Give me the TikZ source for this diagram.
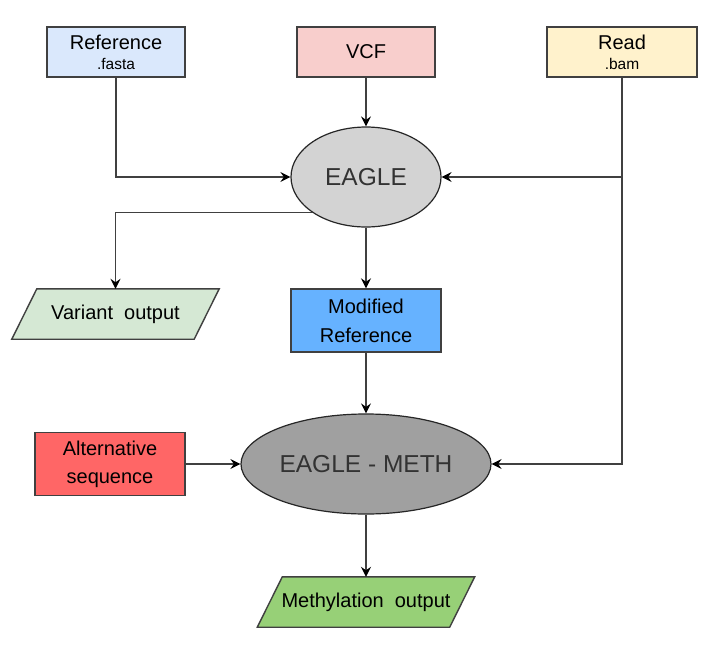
\documentclass[tikz,border=0pt]{standalone}
\usepackage{fontspec}
\setmainfont{Liberation Sans}
\usetikzlibrary{shapes.geometric,arrows.meta}
\definecolor{edge}{HTML}{404040}
\definecolor{txt}{HTML}{333333}
\definecolor{cref}{HTML}{DAE8FC}
\definecolor{cvcf}{HTML}{F8CECC}
\definecolor{cread}{HTML}{FFF2CC}
\definecolor{ceagle}{HTML}{D3D3D3}
\definecolor{cvar}{HTML}{D5E8D4}
\definecolor{cmod}{HTML}{66B2FF}
\definecolor{cmeth}{HTML}{A0A0A0}
\definecolor{calt}{HTML}{FF6666}
\definecolor{cmout}{HTML}{97D077}
\tikzset{
  box/.style={draw=edge, line width=1.4pt, rectangle, inner sep=0pt, align=center,
    font=\fontsize{20}{20}\selectfont},
  oval/.style={draw=black!85, line width=1.2pt, ellipse, inner sep=0pt, text=txt,
    font=\fontsize{24.5}{24.5}\selectfont},
  parabox/.style={rectangle, inner sep=0pt, minimum height=50pt,
    font=\fontsize{20}{20}\selectfont},
  arr/.style={draw=edge, line width=1.4pt, -{Stealth[length=10pt,width=10pt,inset=3.5pt,color=black]}},
  ln/.style={draw=edge, line width=1.4pt}
}
\newcommand{\subtxt}[1]{{\fontsize{15.5}{15.5}\selectfont #1}}
\begin{document}
\begin{tikzpicture}[x=1pt,y=-1pt]
\useasboundingbox (0,0) rectangle (715,651);
\fill[white] (0,0) rectangle (715,651);

\node[box, fill=cref, minimum width=138pt, minimum height=50pt] (ref) at (116,52)
  {Reference\\[0pt]\subtxt{.fasta}};
\node[box, fill=cvcf, minimum width=138pt, minimum height=50pt] (vcf) at (366,52) {VCF};
\node[box, fill=cread, minimum width=150pt, minimum height=50pt] (read) at (622,52)
  {Read\\[0pt]\subtxt{.bam}};
\node[oval, fill=ceagle, minimum width=150pt, minimum height=100pt] (eagle) at (366,177) {EAGLE};

\node[parabox, minimum width=207pt] (variant) at (115.5,314) {Variant\ \ output};
\draw[edge, line width=1.4pt, fill=cvar]
  ([xshift=25pt]variant.north west) -- (variant.north east)
  -- ([xshift=-25pt]variant.south east) -- (variant.south west) -- cycle;
\node[parabox, minimum width=207pt] at (variant) {Variant\ \ output};

\node[box, fill=cmod, minimum width=150pt, minimum height=63pt] (modref) at (366,320.5)
  {Modified\\[9pt]Reference};
\node[oval, fill=cmeth, minimum width=250pt, minimum height=100pt] (meth) at (366,464) {EAGLE - METH};
\node[box, fill=calt, minimum width=150pt, minimum height=63pt] (alt) at (110,464)
  {Alternative\\[8pt]sequence};

\node[parabox, minimum width=217pt] (mout) at (366,602) {Methylation\ \ output};
\draw[edge, line width=1.4pt, fill=cmout]
  ([xshift=25pt]mout.north west) -- (mout.north east)
  -- ([xshift=-25pt]mout.south east) -- (mout.south west) -- cycle;
\node[parabox, minimum width=217pt] at (mout) {Methylation\ \ output};

\draw[arr] (ref.south) |- (eagle.west);
\draw[arr] (vcf.south) -- (eagle.north);
\draw[arr] (read.south) |- (meth.east);
\draw[arr] (read.south |- eagle.east) -- (eagle.east);
\draw[arr] (eagle.213) -| (variant.north);
\draw[arr] (eagle.south) -- (modref.north);
\draw[arr] (modref.south) -- (meth.north);
\draw[arr] (alt.east) -- (meth.west);
\draw[arr] (meth.south) -- (mout.north);
\end{tikzpicture}
\end{document}
